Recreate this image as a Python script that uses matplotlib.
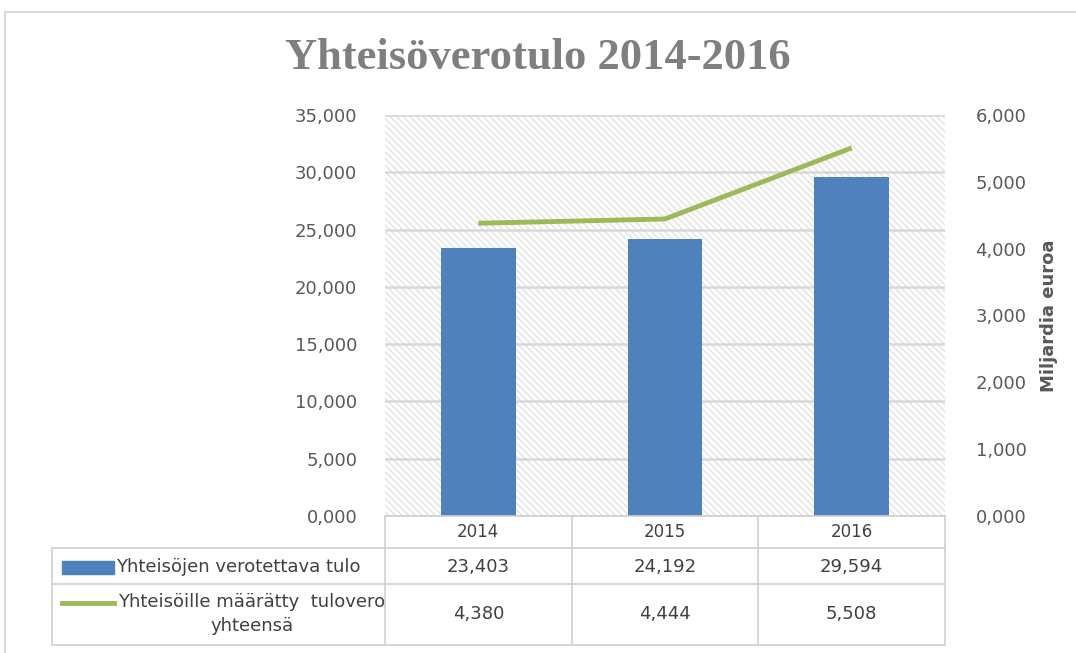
import matplotlib
matplotlib.use('Agg')
import matplotlib.pyplot as plt
from matplotlib.lines import Line2D
from matplotlib.patches import Rectangle

plt.rcParams['hatch.linewidth'] = 1.0

years = ["2014", "2015", "2016"]
taxable_income = [23.403, 24.192, 29.594]   # Yhteisöjen verotettava tulo
income_tax = [4.380, 4.444, 5.508]          # Yhteisöille määrätty tulovero yhteensä
bar_label = "Yhteisöjen verotettava tulo"
line_label = "Yhteisöille määrätty  tulovero\nyhteensä"
left_ticks = [0, 5, 10, 15, 20, 25, 30, 35]
right_ticks = [0, 1, 2, 3, 4, 5, 6]

bar_color = '#4F81BD'
line_color = '#9BBB59'
grid_color = '#d9d9d9'
text_color = '#595959'


def fi(v):
    return "{:.3f}".format(v).replace('.', ',')


W, H = 1076, 653
fig = plt.figure(figsize=(W / 100, H / 100), dpi=100)
x0, x1, y0, y1 = 385, 945, 516, 115
ax = fig.add_axes([x0 / W, 1 - y0 / H, (x1 - x0) / W, (y0 - y1) / H])
ax2 = ax.twinx()

# hatched plot area
ax.add_patch(Rectangle((0, 0), 1, 1, transform=ax.transAxes, facecolor='white',
                       edgecolor='#e2e2e2', hatch='\\\\\\\\\\', lw=0, zorder=0))
ax.set_xlim(-0.5, len(years) - 0.5)
ax.set_ylim(0, 35)
ax2.set_ylim(0, 6)
for t in left_ticks:
    ax.axhline(t, color=grid_color, lw=1.8, zorder=1)

xs = list(range(len(years)))
ax.bar(xs, taxable_income, 0.4, color=bar_color, zorder=2)
ax2.plot(xs, income_tax, color=line_color, lw=3.5, solid_capstyle='butt')

for a in (ax, ax2):
    for s in a.spines.values():
        s.set_visible(False)
ax.set_xticks([])
ax.set_yticks(left_ticks)
ax.set_yticklabels([fi(t) for t in left_ticks])
ax2.set_yticks(right_ticks)
ax2.set_yticklabels([fi(t) for t in right_ticks])
ax.tick_params(axis='y', length=0, pad=20, labelsize=13, labelcolor=text_color)
ax2.tick_params(axis='y', length=0, pad=22, labelsize=13, labelcolor=text_color)
ax2.set_ylabel("Miljardia euroa", fontsize=13, fontweight='bold', color=text_color, labelpad=10)

fig.text(0.5, 1 - 58 / H, "Yhteisöverotulo 2014-2016", ha='center', va='center',
         fontsize=32, fontweight='bold', family='Liberation Serif', color='#7f7f7f')

# data table under the chart
tc = '#d0d0d0'
rows_y = [516, 548, 584, 645]
fy = lambda y: 1 - y / H
fx = lambda x: x / W
col_x = [ax.transData.transform((i - 0.5, 0))[0] / W for i in range(len(years) + 1)]
left_x = fx(52)
fig.add_artist(Line2D([col_x[0], col_x[-1]], [fy(516)] * 2, color=tc, lw=1.2))
for y in rows_y[1:]:
    fig.add_artist(Line2D([left_x, col_x[-1]], [fy(y)] * 2, color=tc, lw=1.2))
for cx in col_x:
    fig.add_artist(Line2D([cx, cx], [fy(516), fy(645)], color=tc, lw=1.2))
fig.add_artist(Line2D([left_x, left_x], [fy(548), fy(645)], color=tc, lw=1.2))

for i, yr in enumerate(years):
    cx = (col_x[i] + col_x[i + 1]) / 2
    fig.text(cx, fy(532), yr, ha='center', va='center', fontsize=12, color='#404040')
    fig.text(cx, fy(567), fi(taxable_income[i]), ha='center', va='center', fontsize=13,
             color='#404040')
    fig.text(cx, fy(614), fi(income_tax[i]), ha='center', va='center', fontsize=13,
             color='#404040')

fig.add_artist(Rectangle((fx(62), fy(574)), fx(114) - fx(62), fy(561) - fy(574),
                         transform=fig.transFigure, color=bar_color))
fig.text(fx(116), fy(567), bar_label, ha='left', va='center', fontsize=13, color='#404040')
fig.add_artist(Line2D([fx(62), fx(114)], [fy(603)] * 2, color=line_color, lw=3.5))
fig.text(fx(252), fy(614), line_label, ha='center', va='center', fontsize=13,
         color='#404040', linespacing=1.4)

# outer chart frame
fig.add_artist(Line2D([fx(5), fx(5), 1], [0, fy(12), fy(12)], color='#d9d9d9', lw=1.5))

fig.savefig('out.png', dpi=100)
